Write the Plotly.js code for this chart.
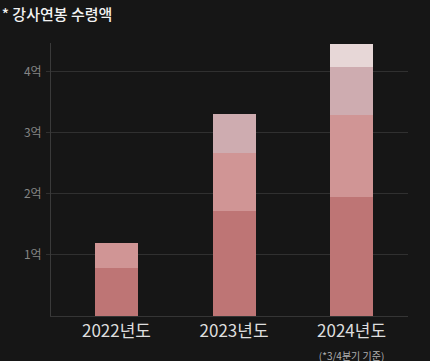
<!DOCTYPE html>
<html>
<head>
<meta charset="utf-8">
<script src="https://cdn.plot.ly/plotly-3.0.1.min.js"></script>
<style>
html,body{margin:0;padding:0;background:#161616;}
#chart{width:430px;height:361px;}
</style>
</head>
<body>
<div id="chart"></div>
<script>
const years = ['2022', '2023', '2024'];
const yearLabels = ['2022년도', '2023년도', '2024년도<br><span style="font-size:10px;color:#b0b0b0">(*3/4분기 기준)</span>'];
const seg1 = [0.78, 1.72, 1.95];
const seg2 = [0.41, 0.95, 1.34];
const seg3 = [null, 0.64, 0.79];
const seg4 = [null, null, 0.37];
const segColors = ['#be7575', '#d09595', '#ceacb0', '#e7d7d7'];
const yTickVals = [1, 2, 3, 4];
const yTickText = ['1억', '2억', '3억', '4억'];

const segs = [seg1, seg2, seg3, seg4];
const traces = segs.map((s, i) => ({
  type: 'bar',
  x: years,
  y: s,
  width: 0.366,
  marker: {color: segColors[i], line: {width: 0}},
  hoverinfo: 'skip',
  showlegend: false
}));

const layout = {
  width: 430, height: 361,
  paper_bgcolor: '#161616',
  plot_bgcolor: '#161616',
  barmode: 'stack',
  margin: {l: 51, r: 22, t: 43, b: 45},
  title: {
    text: '* 강사연봉 수령액',
    x: 0.004, xanchor: 'left', xref: 'container',
    y: 0.958, yanchor: 'middle', yref: 'container',
    font: {family: '"Noto Sans CJK KR", "Noto Sans", sans-serif', size: 15, color: '#f2f2f2', weight: 500}
  },
  xaxis: {
    type: 'category',
    range: [-0.557, 2.48],
    tickvals: years,
    ticktext: yearLabels,
    tickfont: {family: '"Noto Sans CJK KR", "Noto Sans", sans-serif', size: 17, color: '#dedede'},
    ticks: '',
    showgrid: false,
    showline: true,
    linecolor: '#353535',
    linewidth: 1,
    zeroline: false,
    fixedrange: true
  },
  yaxis: {
    range: [0, 4.47],
    tickvals: yTickVals,
    ticktext: yTickText,
    tickfont: {family: '"Noto Sans CJK KR", "Noto Sans", sans-serif', size: 12, color: '#858585'},
    ticks: 'outside',
    ticklen: 4,
    tickcolor: '#303030',
    showgrid: true,
    gridcolor: '#303030',
    gridwidth: 1,
    showline: true,
    linecolor: '#3a3a3a',
    linewidth: 1,
    zeroline: false,
    ticklabelstandoff: 2,
    fixedrange: true
  }
};

Plotly.newPlot('chart', traces, layout, {displayModeBar: false, staticPlot: true});
</script>
</body>
</html>
